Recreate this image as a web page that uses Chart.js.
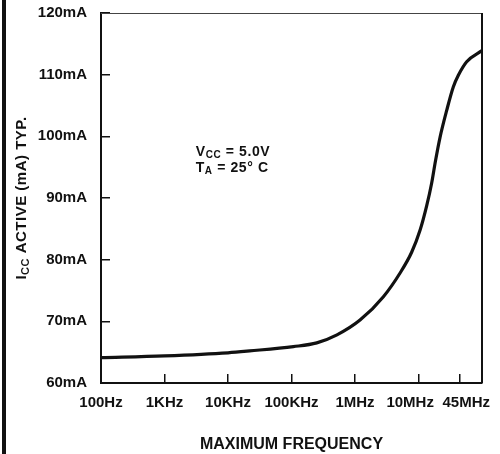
<!DOCTYPE html>
<html>
<head>
<meta charset="utf-8">
<script src="https://cdn.jsdelivr.net/npm/chart.js@4.4.0/dist/chart.umd.min.js"></script>
<style>
    html, body { margin: 0; padding: 0; background: #fff; }
    #wrap { position: relative; width: 500px; height: 454px; }
    #bar { position: absolute; left: 2px; top: 0; width: 4px; height: 454px; background: #111; }
</style>
</head>
<body>
<div id="wrap">
    <canvas id="myChart" width="500" height="454"></canvas>
    <div id="bar"></div>
</div>
<script>
// values
var frequencies = [100, 1000, 10000, 22000, 107000, 250000, 520000, 1200000, 2800000, 5100000,
    7800000, 10600000, 13500000, 16100000, 18500000, 21800000, 27800000, 35300000, 42400000, 57400000, 100000000];
var currents = [64.1, 64.4, 64.9, 65.2, 65.9, 66.5, 67.8, 70.2, 74.0, 77.8,
    81.2, 84.8, 88.8, 92.4, 96.0, 99.8, 104.2, 108.0, 109.9, 112.1, 113.9];

var xTickValues = [100, 1000, 10000, 100000, 1000000, 10000000, 45000000];
var xTickLabels = ['100Hz', '1KHz', '10KHz', '100KHz', '1MHz', '10MHz    ', '   45MHz'];
var yTickValues = [60, 70, 80, 90, 100, 110, 120];

var fontFamily = '"Liberation Sans", Arial, sans-serif';
var ink = '#111';

function drawParts(ctx, parts, x, y) {
    // draws text pieces one after another, subscripts get a dy
    parts.forEach(function (p) {
        ctx.font = 'bold ' + p.size + 'px ' + fontFamily;
        ctx.fillText(p.text, x, y + (p.dy || 0));
        x += ctx.measureText(p.text).width;
    });
}

function partsWidth(ctx, parts) {
    var w = 0;
    parts.forEach(function (p) {
        ctx.font = 'bold ' + p.size + 'px ' + fontFamily;
        w += ctx.measureText(p.text).width;
    });
    return w;
}

var textPlugin = {
    id: 'textPlugin',
    afterDraw: function (chart) {
        var ctx = chart.ctx;
        var area = chart.chartArea;
        ctx.save();

        // top and right side of the frame
        ctx.strokeStyle = '#444';
        ctx.lineWidth = 1;
        ctx.beginPath();
        ctx.moveTo(area.left, area.top + 0.5);
        ctx.lineTo(area.right, area.top + 0.5);
        ctx.stroke();
        ctx.strokeStyle = ink;
        ctx.lineWidth = 2;
        ctx.beginPath();
        ctx.moveTo(area.right, area.top);
        ctx.lineTo(area.right, area.bottom);
        ctx.stroke();

        ctx.fillStyle = ink;
        ctx.textBaseline = 'alphabetic';
        ctx.textAlign = 'left';

        // y axis title
        ctx.letterSpacing = '0.5px';
        var yTitle = [
            { text: 'I', size: 15 },
            { text: 'CC', size: 11, dy: 3 },
            { text: ' ACTIVE (mA) TYP.', size: 15 }
        ];
        ctx.save();
        ctx.translate(26, (area.top + area.bottom) / 2);
        ctx.rotate(-Math.PI / 2);
        drawParts(ctx, yTitle, -partsWidth(ctx, yTitle) / 2, 0);
        ctx.restore();

        // conditions note
        ctx.letterSpacing = '0.6px';
        var nx = chart.scales.x.getPixelForValue(3100);
        var ny = chart.scales.y.getPixelForValue(96.8);
        drawParts(ctx, [
            { text: 'V', size: 14 },
            { text: 'CC', size: 10, dy: 2 },
            { text: ' = 5.0V', size: 14 }
        ], nx, ny);
        drawParts(ctx, [
            { text: 'T', size: 14 },
            { text: 'A', size: 10, dy: 2 },
            { text: ' = 25\u00b0 C', size: 14 }
        ], nx, ny + 16);

        ctx.restore();
    }
};

var points = frequencies.map(function (f, i) {
    return { x: f, y: currents[i] };
});

var chart = new Chart(document.getElementById('myChart'), {
    type: 'scatter',
    data: {
        datasets: [{
            data: points,
            showLine: true,
            borderColor: ink,
            borderWidth: 3.2,
            pointRadius: 0,
            cubicInterpolationMode: 'monotone'
        }]
    },
    options: {
        responsive: false,
        animation: false,
        layout: { padding: { top: 13, right: 18, bottom: 0, left: 0 } },
        plugins: { legend: { display: false }, tooltip: { enabled: false } },
        scales: {
            x: {
                type: 'logarithmic',
                min: 100,
                max: 100000000,
                afterBuildTicks: function (scale) {
                    scale.ticks = xTickValues.map(function (v) { return { value: v }; });
                },
                afterFit: function (scale) {
                    scale.height = 71;
                    scale.paddingLeft = 0;
                    scale.paddingRight = 0;
                },
                grid: { drawOnChartArea: false, tickLength: -9, color: ink, lineWidth: 1.5 },
                border: { color: ink, width: 2 },
                ticks: {
                    autoSkip: false,
                    maxRotation: 0,
                    padding: 20,
                    color: ink,
                    font: { family: fontFamily, size: 15, weight: 'bold' },
                    callback: function (value, index) { return xTickLabels[index]; }
                },
                title: {
                    display: true,
                    text: 'MAXIMUM FREQUENCY',
                    color: ink,
                    padding: { top: 0, bottom: 0 },
                    font: { family: fontFamily, size: 16, weight: 'bold' }
                }
            },
            y: {
                min: 60,
                max: 120,
                afterBuildTicks: function (scale) {
                    scale.ticks = yTickValues.map(function (v) { return { value: v }; });
                },
                afterFit: function (scale) {
                    scale.width = 101;
                    scale.paddingTop = 0;
                    scale.paddingBottom = 0;
                },
                grid: { drawOnChartArea: false, tickLength: -9, color: ink, lineWidth: 1.5 },
                border: { color: ink, width: 2 },
                ticks: {
                    padding: 23,
                    color: ink,
                    font: { family: fontFamily, size: 15, weight: 'bold' },
                    callback: function (value) { return value + 'mA'; }
                }
            }
        }
    },
    plugins: [textPlugin]
});
</script>
</body>
</html>
